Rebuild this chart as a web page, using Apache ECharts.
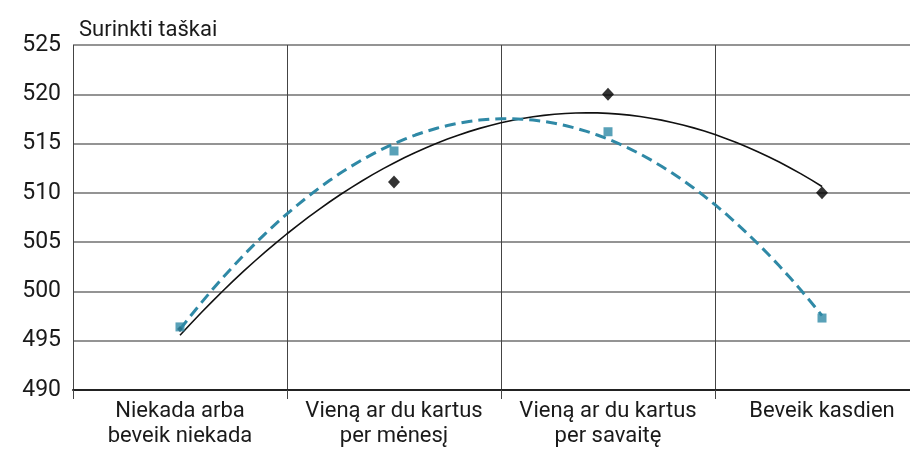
<!DOCTYPE html>
<html><head><meta charset="utf-8">
<script src="https://cdn.jsdelivr.net/npm/echarts@6/dist/echarts.min.js"></script>
<style>html,body{margin:0;padding:0;background:#fff;overflow:hidden}#c{width:929px;height:449px}</style>
</head><body><div id="c"></div>
<script>
var categories = ['Niekada arba\nbeveik niekada', 'Vieną ar du kartus\nper mėnesį', 'Vieną ar du kartus\nper savaitę', 'Beveik kasdien'];
var blackValues = [496.2, 511.1, 520.0, 510.0];
var blueValues = [496.4, 514.25, 516.2, 497.3];
var yTicks = [490, 495, 500, 505, 510, 515, 520, 525];

// least-squares quadratic trend line fitted to a series (x = 0..n-1)
function quadFit(vals) {
  var n = vals.length, S = [0,0,0,0,0], T = [0,0,0];
  for (var i = 0; i < n; i++) {
    var p = 1;
    for (var k = 0; k < 5; k++) { S[k] += p; if (k < 3) T[k] += p * vals[i]; p *= i; }
  }
  var A = [[S[0],S[1],S[2],T[0]],[S[1],S[2],S[3],T[1]],[S[2],S[3],S[4],T[2]]];
  for (var c = 0; c < 3; c++) {
    for (var r = c + 1; r < 3; r++) {
      var f = A[r][c] / A[c][c];
      for (var j = c; j < 4; j++) A[r][j] -= f * A[c][j];
    }
  }
  var x = [0,0,0];
  for (var r2 = 2; r2 >= 0; r2--) {
    var s = A[r2][3];
    for (var j2 = r2 + 1; j2 < 3; j2++) s -= A[r2][j2] * x[j2];
    x[r2] = s / A[r2][r2];
  }
  var pts = [];
  for (var t = 0; t <= (n - 1) + 1e-9; t += 0.05) pts.push([t, x[0] + x[1] * t + x[2] * t * t]);
  return pts;
}

var chart = echarts.init(document.getElementById('c'));
var txt = '#1a1a1a';
var blue = '#2f89a6';
chart.setOption({
  animation: false,
  title: { text: 'Surinkti taškai', left: 74, top: 14, textStyle: { fontFamily: 'Roboto', fontSize: 22, fontWeight: 'normal', color: txt } },
  grid: { left: 73, right: 0, top: 45, bottom: 59, containLabel: false },
  xAxis: [{
    type: 'category', data: categories, boundaryGap: true,
    axisLine: { show: true, lineStyle: { color: '#222', width: 2 } },
    axisTick: { show: true, length: 9, lineStyle: { color: '#444', width: 1 } },
    splitLine: { show: true, lineStyle: { color: '#444', width: 1 } },
    axisLabel: { fontFamily: 'Roboto', fontSize: 22, color: txt, lineHeight: 25, margin: 9, interval: 0 }
  }, {
    type: 'value', min: -0.5, max: 3.5, show: false
  }],
  yAxis: {
    type: 'value', min: yTicks[0], max: yTicks[yTicks.length - 1], interval: 5,
    axisLine: { show: false }, axisTick: { show: false },
    splitLine: { show: true, lineStyle: { color: '#707070', width: 1.5 } },
    axisLabel: { fontFamily: 'Roboto', fontSize: 23, color: txt, margin: 12 }
  },
  series: [
    { type: 'line', xAxisIndex: 1, data: quadFit(blackValues), showSymbol: false, symbol: 'none',
      lineStyle: { color: '#111', width: 1.6 }, z: 2 },
    { type: 'line', xAxisIndex: 1, data: quadFit(blueValues), showSymbol: false, symbol: 'none',
      lineStyle: { color: blue, width: 3, type: [11, 6] }, z: 3 },
    { type: 'scatter', xAxisIndex: 0, data: blackValues, symbol: 'diamond',
      symbolSize: function (v, p) { return Math.abs(v - blueValues[p.dataIndex]) < 0.5 ? 6 : [12, 13]; },
      itemStyle: { color: '#000' }, z: 4 },
    { type: 'scatter', xAxisIndex: 0, data: blueValues, symbol: 'rect', symbolSize: 9,
      itemStyle: { color: blue }, z: 5 }
  ]
});
</script></body></html>
